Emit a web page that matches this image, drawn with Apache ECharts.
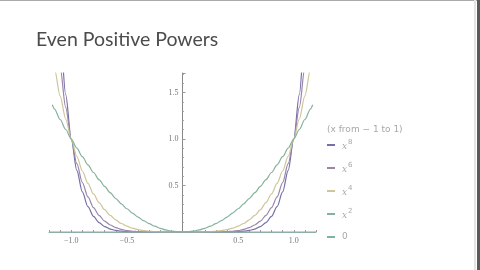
<!DOCTYPE html>
<html>
<head>
<meta charset="utf-8">
<script src="https://cdn.jsdelivr.net/npm/echarts@6/dist/echarts.min.js"></script>
<style>html,body{margin:0;padding:0;background:#fff}#c{width:480px;height:270px}</style>
</head>
<body>
<div id="c"></div>
<script>
const xs = [-1.17,-1.15,-1.1,-1.05,-1,-0.95,-0.9,-0.85,-0.8,-0.75,-0.7,-0.65,-0.6,-0.55,-0.5,-0.45,-0.4,-0.35,-0.3,-0.25,-0.2,-0.15,-0.1,-0.05,0,0.05,0.1,0.15,0.2,0.25,0.3,0.35,0.4,0.45,0.5,0.55,0.6,0.65,0.7,0.75,0.8,0.85,0.9,0.95,1,1.05,1.1,1.15,1.17];
const pow8 = [3.511,3.059,2.1436,1.4775,1,0.6634,0.4305,0.2725,0.1678,0.1001,0.0576,0.0319,0.0168,0.0084,0.0039,0.0017,0.0007,0.0002,0.0001,0,0,0,0,0,0,0,0,0,0,0,0.0001,0.0002,0.0007,0.0017,0.0039,0.0084,0.0168,0.0319,0.0576,0.1001,0.1678,0.2725,0.4305,0.6634,1,1.4775,2.1436,3.059,3.511];
const pow6 = [2.565,2.3131,1.7716,1.3401,1,0.7351,0.5314,0.3771,0.2621,0.178,0.1176,0.0754,0.0467,0.0277,0.0156,0.0083,0.0041,0.0018,0.0007,0.0002,0.0001,0,0,0,0,0,0,0,0.0001,0.0002,0.0007,0.0018,0.0041,0.0083,0.0156,0.0277,0.0467,0.0754,0.1176,0.178,0.2621,0.3771,0.5314,0.7351,1,1.3401,1.7716,2.3131,2.565];
const pow4 = [1.874,1.749,1.4641,1.2155,1,0.8145,0.6561,0.522,0.4096,0.3164,0.2401,0.1785,0.1296,0.0915,0.0625,0.041,0.0256,0.015,0.0081,0.0039,0.0016,0.0005,0.0001,0,0,0,0.0001,0.0005,0.0016,0.0039,0.0081,0.015,0.0256,0.041,0.0625,0.0915,0.1296,0.1785,0.2401,0.3164,0.4096,0.522,0.6561,0.8145,1,1.2155,1.4641,1.749,1.874];
const pow2 = [1.369,1.3225,1.21,1.1025,1,0.9025,0.81,0.7225,0.64,0.5625,0.49,0.4225,0.36,0.3025,0.25,0.2025,0.16,0.1225,0.09,0.0625,0.04,0.0225,0.01,0.0025,0,0.0025,0.01,0.0225,0.04,0.0625,0.09,0.1225,0.16,0.2025,0.25,0.3025,0.36,0.4225,0.49,0.5625,0.64,0.7225,0.81,0.9025,1,1.1025,1.21,1.3225,1.369];
const zeroLine = [-1.2, 1.2];
const xLabelValues = [-1, -0.5, 0.5, 1];
const xTickValues = [-1.2,-1.1,-1,-0.9,-0.8,-0.7,-0.6,-0.5,-0.4,-0.3,-0.2,-0.1,0.1,0.2,0.3,0.4,0.5,0.6,0.7,0.8,0.9,1,1.1,1.2];
const seriesNames = ['x8','x6','x4','x2','0'];
const seriesExp = {x8:'8', x6:'6', x4:'4', x2:'2'};
const colors = ['#7470aa','#9c86a8','#cfc596','#86b29c','#7cb69e'];

function pairs(arr){ return xs.map((x,i)=>[x,arr[i]]); }

const chart = echarts.init(document.getElementById('c'), null, {renderer:'canvas'});
const lineCommon = {type:'line', showSymbol:false, smooth:0.3, smoothMonotone:'x', clip:true, silent:true};
chart.setOption({
  animation:false,
  backgroundColor:'#fff',
  title:[
    {text:'Even Positive Powers', left:31, top:25, textStyle:{fontFamily:'Lato', fontSize:19.5, fontWeight:'normal', color:'#4c4c4c'}},
    {text:'(x from \u2212 1 to 1)', left:322, top:120, textStyle:{fontFamily:'DejaVu Sans', fontSize:9, fontWeight:'normal', color:'#a8a8a8'}}
  ],
  grid:{left:49, top:73, width:267, height:159},
  legend:{
    orient:'vertical', left:322, top:134, itemWidth:8, itemHeight:2, itemGap:11, icon:'rect',
    data:seriesNames,
    formatter:function(n){ return n==='0' ? '{t|0}' : '{i|x}{s|'+seriesExp[n]+'}'; },
    textStyle:{color:'#a8a8a8', fontSize:9, lineHeight:12, padding:[0,0,0,2],
      rich:{i:{fontFamily:'DejaVu Serif', fontStyle:'italic', fontSize:9, color:'#a8a8a8', lineHeight:12, verticalAlign:'bottom'},
            s:{fontFamily:'DejaVu Sans', fontSize:7, color:'#a8a8a8', lineHeight:12, verticalAlign:'top', padding:[0,0,4,1]},
            t:{fontFamily:'DejaVu Sans', fontSize:9, color:'#a8a8a8', lineHeight:12}}}
  },
  xAxis:{type:'value', min:-1.2, max:1.2,
    axisLine:{onZero:true, lineStyle:{color:'#9aa', width:1}},
    axisTick:{show:true, length:2, inside:true, customValues:xTickValues, lineStyle:{color:'#999'}},
    axisLabel:{customValues:xLabelValues, margin:5, fontFamily:'Liberation Serif', fontSize:8, color:'#777',
      formatter:function(v){ return (v<0?'\u2212':'')+Math.abs(v).toFixed(1); }},
    splitLine:{show:false}},
  yAxis:{type:'value', min:0, max:1.71, interval:0.5, offset:-133.5,
    axisLine:{show:true, onZero:false, lineStyle:{color:'#888', width:1}},
    axisTick:{show:true, length:3, inside:true, lineStyle:{color:'#999'}},
    minorTick:{show:true, splitNumber:5, length:1.5, lineStyle:{color:'#aaa'}},
    axisLabel:{showMaxLabel:false, margin:4, fontFamily:'Liberation Serif', fontSize:8, color:'#777',
      formatter:function(v){ return v===0 ? '' : v.toFixed(1); }},
    splitLine:{show:false}},
  series:[
    Object.assign({name:'x8', data:pairs(pow8), lineStyle:{width:1.2, color:colors[0]}, itemStyle:{color:colors[0]}}, lineCommon),
    Object.assign({name:'x6', data:pairs(pow6), lineStyle:{width:1.2, color:colors[1]}, itemStyle:{color:colors[1]}}, lineCommon),
    Object.assign({name:'x4', data:pairs(pow4), lineStyle:{width:1.2, color:colors[2]}, itemStyle:{color:colors[2]}}, lineCommon),
    Object.assign({name:'x2', data:pairs(pow2), lineStyle:{width:1.2, color:colors[3]}, itemStyle:{color:colors[3]}}, lineCommon),
    Object.assign({name:'0', data:zeroLine.map(x=>[x,0]), lineStyle:{width:1.2, color:colors[4]}, itemStyle:{color:colors[4]}}, lineCommon)
  ],
  graphic:[
    {type:'rect', shape:{x:0,y:0,width:480,height:1}, style:{fill:'#aaaaaa'}, silent:true},
    {type:'rect', shape:{x:474,y:0,width:2,height:270}, style:{fill:'#e4e4e4'}, silent:true},
    {type:'rect', shape:{x:477,y:0,width:3,height:270}, style:{fill:'#5a5a5a'}, silent:true}
  ]
});
</script>
</body>
</html>
